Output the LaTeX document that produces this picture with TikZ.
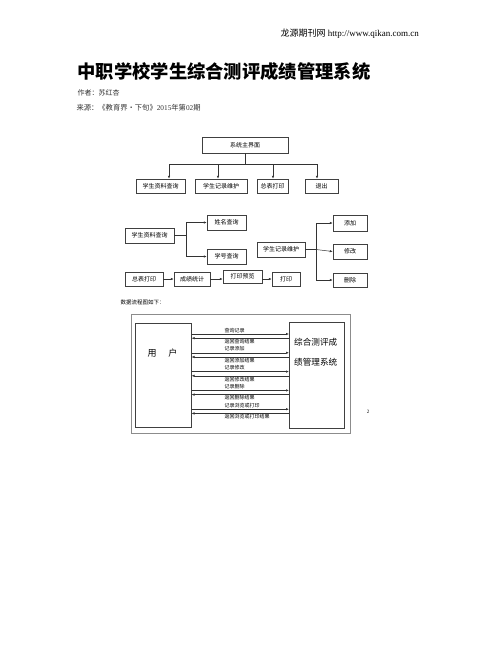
\documentclass[tikz,border=0pt]{standalone}
\usepackage{fontspec}
\setmainfont{Liberation Serif}
\newfontfamily\cjk{Noto Sans CJK SC}
\usetikzlibrary{arrows.meta, calc}

\tikzset{
  box/.style={draw=black!75, line width=0.5pt, inner sep=0pt,
    font=\cjk\fontsize{6}{7}\selectfont},
  wire/.style={draw=black!80, line width=0.5pt},
  link/.style={wire, -{Latex[length=3pt,width=2.4pt]}},
  small/.style={inner sep=0.5pt, font=\cjk\fontsize{5}{6}\selectfont}
}

\begin{document}
\begin{tikzpicture}[x=1pt, y=-1pt]
      \useasboundingbox[fill=white] (0,0) rectangle (502,649);

      % 1. 页眉与标题
      \node[anchor=west, font=\fontsize{9}{10}\selectfont] (head) at (277,34) {{\cjk 龙源期刊网} http://www.qikan.com.cn};
      \node[anchor=west, font=\cjk\bfseries\fontsize{18.3}{20}\selectfont] (title) at (74,72) {中职学校学生综合测评成绩管理系统};
      \node[anchor=west, text=black!80, font=\cjk\fontsize{7}{8}\selectfont] (author) at (74,93) {作者：苏红杏};
      \node[anchor=west, text=black!80, font=\cjk\fontsize{7.3}{8}\selectfont] (source) at (73,108) {来源：《教育界·下旬》{\rmfamily 2015}年第{\rmfamily 02}期};

      % 2. 系统主界面
      \node[box, minimum width=86pt, minimum height=16pt] (main) at (245,145) {系统主界面};
      \node[box, minimum width=49pt, minimum height=14pt] (q1) at (160.5,186) {学生资料查询};
      \node[box, minimum width=52pt, minimum height=14pt] (q2) at (221,186) {学生记录维护};
      \node[box, minimum width=31pt, minimum height=14pt] (q3) at (272.5,186) {总表打印};
      \node[box, minimum width=33pt, minimum height=14pt] (q4) at (321.5,186) {退出};
      \coordinate (bus) at (245,164);
      \draw[wire] (main.south) -- (bus);
      \draw[wire] ([xshift=8.5pt]q1.north |- bus) -- ([xshift=-4.5pt]q4.north |- bus);
      \foreach \n/\dx in {q1/8.5, q2/-3, q3/0.5, q4/-4.5}
        \draw[link] ([xshift=\dx pt]\n.north |- bus) -- ([xshift=\dx pt]\n.north);

      % 3. 学生资料查询
      \node[box, minimum width=49pt, minimum height=15pt] (s1) at (149.5,235.5) {学生资料查询};
      \node[box, minimum width=39pt, minimum height=15pt] (n1) at (226.5,222.5) {姓名查询};
      \node[box, minimum width=39pt, minimum height=15pt] (n2) at (226.5,256.5) {学号查询};
      \coordinate (fork1) at (186,235.5);
      \draw[wire] (s1.east) -- (fork1);
      \draw[link] (fork1) |- (n1.west);
      \draw[link] (fork1) |- (n2.west);

      % 4. 学生记录维护
      \node[box, minimum width=48pt, minimum height=15pt] (r1) at (281,249.5) {学生记录维护};
      \node[box, minimum width=34pt, minimum height=16pt] (a1) at (350,223) {添加};
      \node[box, minimum width=34pt, minimum height=15pt] (a2) at (350,251.5) {修改};
      \node[box, minimum width=34pt, minimum height=14pt] (a3) at (350,280) {删除};
      \coordinate (fork2) at (316,249.5);
      \draw[wire] (r1.east) -- (fork2);
      \draw[link] (fork2) |- (a1.west);
      \draw[link] (fork2) -- (a2.west);
      \draw[link] (fork2) |- (a3.west);

      % 5. 总表打印
      \node[box, minimum width=38pt, minimum height=14pt] (p1) at (144,279) {总表打印};
      \node[box, minimum width=36pt, minimum height=14pt] (p2) at (192,279) {成绩统计};
      \node[box, minimum width=39pt, minimum height=13pt] (p3) at (242.5,276.5) {打印预览};
      \node[box, minimum width=28pt, minimum height=14pt] (p4) at (286,279) {打印};
      \draw[link] (p1.east) -- (p1.east -| p2.west);
      \draw[link] (p2.east) -- (p2.east -| p3.west);
      \draw[link] (p2.east -| p3.east) -- (p2.east -| p4.west);

      \node[anchor=west, small, font=\cjk\fontsize{5.5}{6}\selectfont] (note) at (120,302) {数据流程图如下：};

      % 6. 数据流程图
      \draw[black!45, line width=0.6pt] (131,314) rectangle (350,433);
      \node[draw=black!75, line width=0.5pt, anchor=north west, minimum width=56pt, minimum height=104pt] (user) at (135,323) {};
      \node[draw=black!75, line width=0.5pt, anchor=north west, minimum width=55pt, minimum height=106pt] (sys) at (289,322) {};
      \node[font=\cjk\fontsize{9}{10}\selectfont] (usertext) at (162.5,353) {用\hspace{12pt}户};
      \node[anchor=north west, align=left, inner sep=0pt, font=\cjk\fontsize{8.6}{20}\selectfont] (systext) at (294,338) {综合测评成\\绩管理系统};
      \foreach \i/\fwd/\back in {0/查询记录/返回查询结果, 1/记录添加/返回添加结果, 2/记录修改/返回修改结果, 3/记录删除/返回删除结果, 4/记录浏览或打印/返回浏览或打印结果} {
        \draw[link] (user.east |- 0,{334+18.8*\i}) -- (sys.west |- 0,{334+18.8*\i});
        \draw[link] (sys.west |- 0,{338.2+18.8*\i}) -- (user.east |- 0,{338.2+18.8*\i});
        \node[small, anchor=south west] (fwd\i) at (224,{333.3+18.8*\i}) {\fwd};
        \node[small, anchor=north west] (back\i) at (224,{338.6+18.8*\i}) {\back};
      }
      \node[small, font=\fontsize{5}{6}\selectfont] (pagenum) at (368,412) {2};
\end{tikzpicture}
\end{document}
